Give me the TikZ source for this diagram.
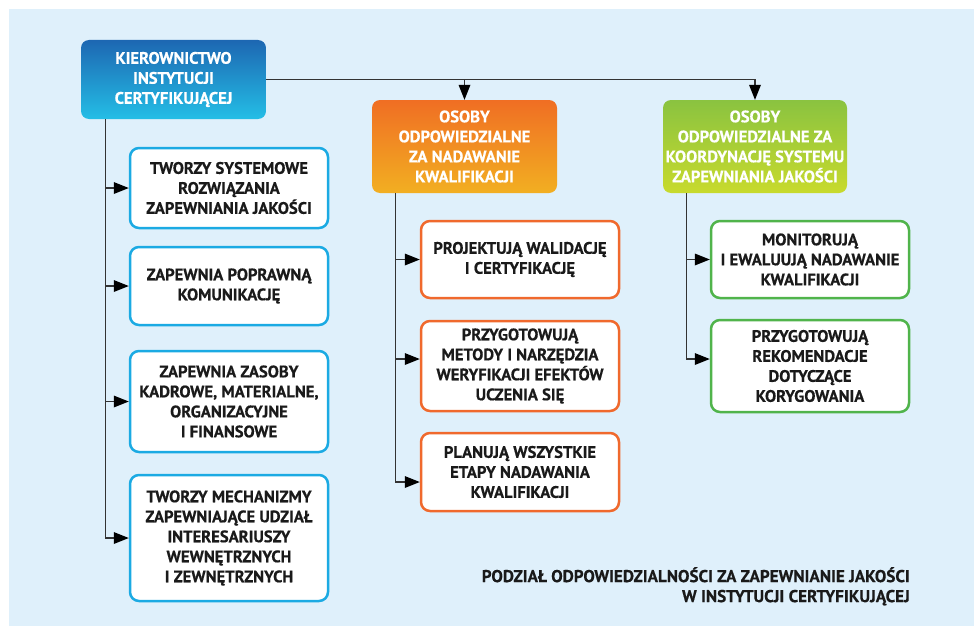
\documentclass[tikz,border=0pt]{standalone}
\usepackage{fontspec}
\setmainfont{PT Sans}[BoldFont={PT Sans Bold}, BoldFeatures={FakeBold=0.5}]
\usetikzlibrary{arrows.meta,calc}

\definecolor{pagebg}{HTML}{DFF0FB}
\definecolor{bluetop}{HTML}{1D67B2}
\definecolor{bluebot}{HTML}{24BEE6}
\definecolor{orgtop}{HTML}{F06E23}
\definecolor{orgbot}{HTML}{F2AF22}
\definecolor{grntop}{HTML}{8AC340}
\definecolor{grnbot}{HTML}{C8DA2D}
\definecolor{blueline}{HTML}{1BAAE3}
\definecolor{orgline}{HTML}{F0692D}
\definecolor{grnline}{HTML}{50B44B}
\definecolor{connline}{HTML}{333333}
\definecolor{txt}{HTML}{1A1A1A}

\tikzset{
  boxtext/.style={font=\bfseries\fontsize{16.6}{20}\selectfont, align=center, inner sep=0pt},
  headbox/.style={boxtext, rounded corners=8pt, text=white},
  bluehead/.style={headbox, top color=bluetop, bottom color=bluebot},
  orghead/.style={headbox, top color=orgtop, bottom color=orgbot},
  grnhead/.style={headbox, top color=grntop, bottom color=grnbot},
  taskbox/.style={boxtext, rounded corners=9pt, fill=white, line width=2.5pt, text=txt, minimum width=198pt},
  bluetask/.style={taskbox, draw=blueline},
  orgtask/.style={taskbox, draw=orgline},
  grntask/.style={taskbox, draw=grnline},
  conn/.style={draw=connline, line width=1.3pt,
    -{Triangle[length=15pt,width=12pt,color=black,fill=black,line width=0pt]}},
}

\begin{document}
\begin{tikzpicture}[x=1pt,y=-1pt]
  \useasboundingbox (0,0) rectangle (974,626);
  \fill[pagebg] (9,9) rectangle (974,626);

  % top-level units
  \node[bluehead, minimum width=185pt, minimum height=79pt] (kier) at (173.5,79.5)
    {KIEROWNICTWO\\INSTYTUCJI\\CERTYFIKUJĄCEJ};
  \node[orghead, minimum width=185pt, minimum height=93pt] (org) at (464.5,146.5)
    {OSOBY\\ODPOWIEDZIALNE\\ZA NADAWANIE\\KWALIFIKACJI};
  \node[grnhead, minimum width=184pt, minimum height=93pt] (grn) at (755,146.5)
    {OSOBY\\ODPOWIEDZIALNE ZA\\KOORDYNACJĘ SYSTEMU\\ZAPEWNIANIA JAKOŚCI};

  % management tasks
  \node[bluetask, minimum height=80pt] (b1) at (229,188)
    {TWORZY SYSTEMOWE\\ROZWIĄZANIA\\ZAPEWNIANIA JAKOŚCI};
  \node[bluetask, minimum height=78pt] (b2) at (229,286)
    {ZAPEWNIA POPRAWNĄ\\KOMUNIKACJĘ};
  \node[bluetask, minimum height=101pt] (b3) at (229,401.5)
    {ZAPEWNIA ZASOBY\\KADROWE, MATERIALNE,\\ORGANIZACYJNE\\I FINANSOWE};
  \node[bluetask, minimum height=126pt] (b4) at (229,538)
    {TWORZY MECHANIZMY\\ZAPEWNIAJĄCE UDZIAŁ\\INTERESARIUSZY\\WEWNĘTRZNYCH\\I ZEWNĘTRZNYCH};

  % qualification staff tasks
  \node[orgtask, minimum height=77pt] (o1) at (520,259.5)
    {PROJEKTUJĄ WALIDACJĘ\\I CERTYFIKACJĘ};
  \node[orgtask, minimum height=90pt] (o2) at (520,366)
    {PRZYGOTOWUJĄ\\METODY I NARZĘDZIA\\WERYFIKACJI EFEKTÓW\\UCZENIA SIĘ};
  \node[orgtask, minimum height=78pt] (o3) at (520,472)
    {PLANUJĄ WSZYSTKIE\\ETAPY NADAWANIA\\KWALIFIKACJI};

  % quality coordination tasks
  \node[grntask, minimum height=77pt] (g1) at (810,259.5)
    {MONITORUJĄ\\I EWALUUJĄ NADAWANIE\\KWALIFIKACJI};
  \node[grntask, minimum height=92pt] (g2) at (810,366)
    {PRZYGOTOWUJĄ\\REKOMENDACJE\\DOTYCZĄCE\\KORYGOWANIA};

  % caption
  \node[font=\bfseries\fontsize{17.1}{20}\selectfont, text=txt, align=right, inner sep=0pt,
        anchor=north east] (cap) at (910,567)
    {PODZIAŁ ODPOWIEDZIALNOŚCI ZA ZAPEWNIANIE JAKOŚCI\\W INSTYTUCJI CERTYFIKUJĄCEJ};

  % connectors from management
  \draw[conn] (kier.east) -| (org.north);
  \draw[conn] (kier.east) -| (grn.north);
  \coordinate (kt) at ($(kier.south west)+(25,0)$);
  \foreach \b in {b1,b2,b3,b4} \draw[conn] (kt) |- (\b.west);

  % connectors of qualification staff
  \coordinate (ot) at ($(org.south west)+(24,0)$);
  \draw[conn] (ot) |- (o1.west);
  \draw[conn] (ot) |- ([yshift=7pt]o2.west);
  \draw[conn] (ot) |- ([yshift=-10pt]o3.west);

  % connectors of quality coordination
  \coordinate (gt) at ($(grn.south west)+(24,0)$);
  \draw[conn] (gt) |- (g1.west);
  \draw[conn] (gt) |- ([yshift=7pt]g2.west);
\end{tikzpicture}
\end{document}
